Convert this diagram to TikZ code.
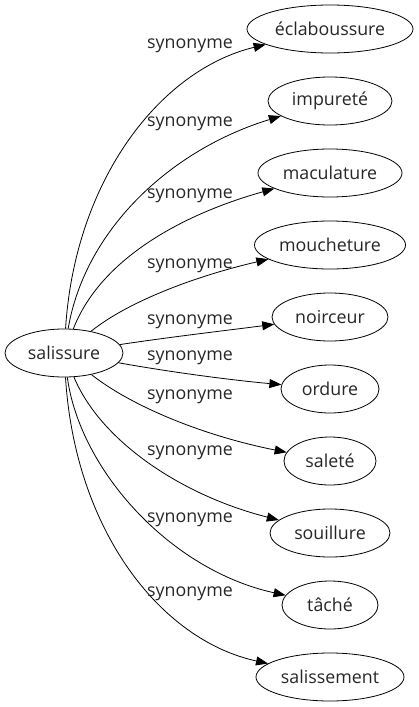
\documentclass[tikz,border=0pt]{standalone}
\usepackage{fontspec}
\setmainfont{Open Sans}
\usetikzlibrary{arrows.meta,shapes.geometric}
\begin{document}
\begin{tikzpicture}[x=1pt,y=-1pt,
  every node/.style={font=\fontsize{17.8}{21}\selectfont,text=black!85},
  word/.style={draw=black,ellipse,line width=0.8pt,minimum height=48pt,inner sep=0pt},
  lbl/.style={inner sep=0pt},
  syn/.style={draw,line width=0.8pt,-{Triangle[length=12pt,width=9pt]}}]
\useasboundingbox (0,0) rectangle (418,707);
\node[word,minimum width=118pt] (s) at (64,353) {salissure};
\node[word,minimum width=166pt] (t1) at (330,29) {éclaboussure};
\node[word,minimum width=124pt] (t2) at (330,101) {impureté};
\node[word,minimum width=144pt] (t3) at (330,173) {maculature};
\node[word,minimum width=151pt] (t4) at (330,245) {moucheture};
\node[word,minimum width=116pt] (t5) at (330,317) {noirceur};
\node[word,minimum width=98pt] (t6) at (330,389) {ordure};
\node[word,minimum width=92pt] (t7) at (330,461) {saleté};
\node[word,minimum width=120pt] (t8) at (330,533) {souillure};
\node[word,minimum width=96pt] (t9) at (330,605) {tâché};
\node[word,minimum width=148pt] (t10) at (330,677) {salissement};
\draw[syn] (s) .. controls (75,180) and (160,70) .. (t1);
\draw[syn] (s) .. controls (85,230) and (170,150) .. (t2);
\draw[syn] (s) .. controls (100,260) and (180,215) .. (t3);
\draw[syn] (s) .. controls (130,300) and (200,275) .. (t4);
\draw[syn] (s) .. controls (170,337) and (230,330) .. (t5);
\draw[syn] (s) .. controls (170,372) and (230,380) .. (t6);
\draw[syn] (s) .. controls (130,405) and (200,435) .. (t7);
\draw[syn] (s) .. controls (100,440) and (180,495) .. (t8);
\draw[syn] (s) .. controls (80,470) and (170,570) .. (t9);
\draw[syn] (s) .. controls (75,530) and (160,640) .. (t10);
\node[lbl] (l1) at (190,46) {synonyme};
\node[lbl] (l2) at (190,124) {synonyme};
\node[lbl] (l3) at (190,196) {synonyme};
\node[lbl] (l4) at (190,266) {synonyme};
\node[lbl] (l5) at (190,322) {synonyme};
\node[lbl] (l6) at (190,358) {synonyme};
\node[lbl] (l7) at (190,397) {synonyme};
\node[lbl] (l8) at (190,453) {synonyme};
\node[lbl] (l9) at (190,520) {synonyme};
\node[lbl] (l10) at (190,594) {synonyme};
\end{tikzpicture}
\end{document}
